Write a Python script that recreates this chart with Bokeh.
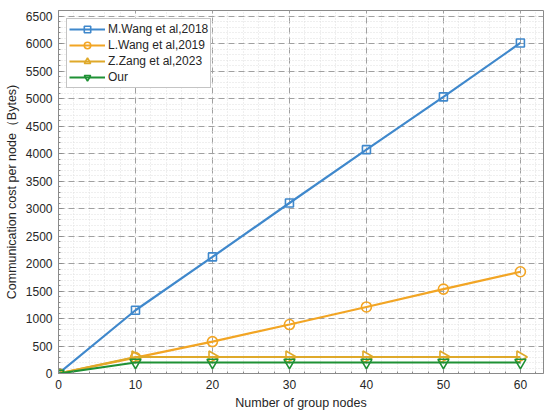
import math
from bokeh.plotting import figure
from bokeh.models import Range1d, SingleIntervalTicker, Legend, LegendItem, ColumnDataSource
from bokeh.embed import file_html
from bokeh.resources import INLINE

# ---- data ----
x_nodes = [0, 10, 20, 30, 40, 50, 60]
mwang_2018 = [0, 1150, 2120, 3100, 4070, 5030, 6010]
lwang_2019 = [0, 290, 580, 890, 1210, 1535, 1850]
zzang_2023 = [0, 300, 300, 300, 300, 300, 300]
our_scheme = [0, 200, 200, 200, 200, 200, 200]
series_names = ["M.Wang et al,2018", "L.Wang et al,2019", "Z.Zang et al,2023", "Our"]

FONT = "Liberation Sans"

p = figure(width=550, height=418, output_backend="svg", toolbar_location=None,
           x_range=Range1d(0, 63), y_range=Range1d(0, 6600),
           min_border_left=58, min_border_right=7, min_border_top=10, min_border_bottom=45)
p.background_fill_color = "white"
p.border_fill_color = "white"
p.outline_line_color = "#8a8a8a"
p.outline_line_width = 1

p.xaxis.ticker = SingleIntervalTicker(interval=10, num_minor_ticks=5)
p.yaxis.ticker = SingleIntervalTicker(interval=500, num_minor_ticks=5)

for ax in (p.xaxis[0], p.yaxis[0]):
    ax.axis_line_color = "#8a8a8a"
    ax.major_tick_in = 4
    ax.major_tick_out = 0
    ax.minor_tick_in = 2
    ax.minor_tick_out = 0
    ax.major_tick_line_color = "#8a8a8a"
    ax.minor_tick_line_color = "#8a8a8a"
    ax.major_label_text_font = FONT
    ax.major_label_text_font_size = "12px"
    ax.major_label_text_color = "#262626"
    ax.axis_label_text_font = FONT
    ax.axis_label_text_font_size = "12.5px"
    ax.axis_label_text_font_style = "normal"
    ax.axis_label_text_color = "#262626"
    ax.major_label_standoff = 6
    ax.axis_label_standoff = 4

p.xaxis.axis_label = "Number of group nodes"
p.yaxis.axis_label = "Communication cost per node（Bytes)"

for g in (p.xgrid[0], p.ygrid[0]):
    g.grid_line_color = "#a0a0a0"
    g.grid_line_dash = "6 4"
    g.grid_line_width = 1
    g.minor_grid_line_color = "#dedede"
    g.minor_grid_line_dash = "1 2"
    g.minor_grid_line_width = 1

colors = ["#3f88cc", "#f2a524", "#dfa92a", "#1f9135"]
ys = [mwang_2018, lwang_2019, zzang_2023, our_scheme]
markers = ["square", "circle", "triangle", "inverted_triangle"]
angles = [0, 0, -math.pi / 2, 0]
sizes = [8, 10, 12, 11]

items = []
for name, y, c, m, a, s in zip(series_names, ys, colors, markers, angles, sizes):
    src = ColumnDataSource(dict(x=x_nodes, y=y, ang=[a] * len(x_nodes)))
    r1 = p.line("x", "y", source=src, line_color=c, line_width=2.2)
    r2 = p.scatter("x", "y", source=src, marker=m, size=s, angle="ang", line_color=c,
                   line_width=1.6, fill_color=None)
    items.append(LegendItem(label=name, renderers=[r1, r2], index=0))

legend = Legend(items=items, location="top_left")
legend.margin = 8
legend.padding = 2
legend.spacing = 0
legend.glyph_width = 36
legend.glyph_height = 16
legend.label_height = 16
legend.label_standoff = 3
legend.label_text_font = FONT
legend.label_text_font_size = "12px"
legend.label_text_color = "#262626"
legend.border_line_color = "#8a8a8a"
legend.border_line_width = 1
legend.background_fill_color = "white"
legend.background_fill_alpha = 1
p.add_layout(legend)

open("out.html", "w").write(file_html(p, INLINE))
